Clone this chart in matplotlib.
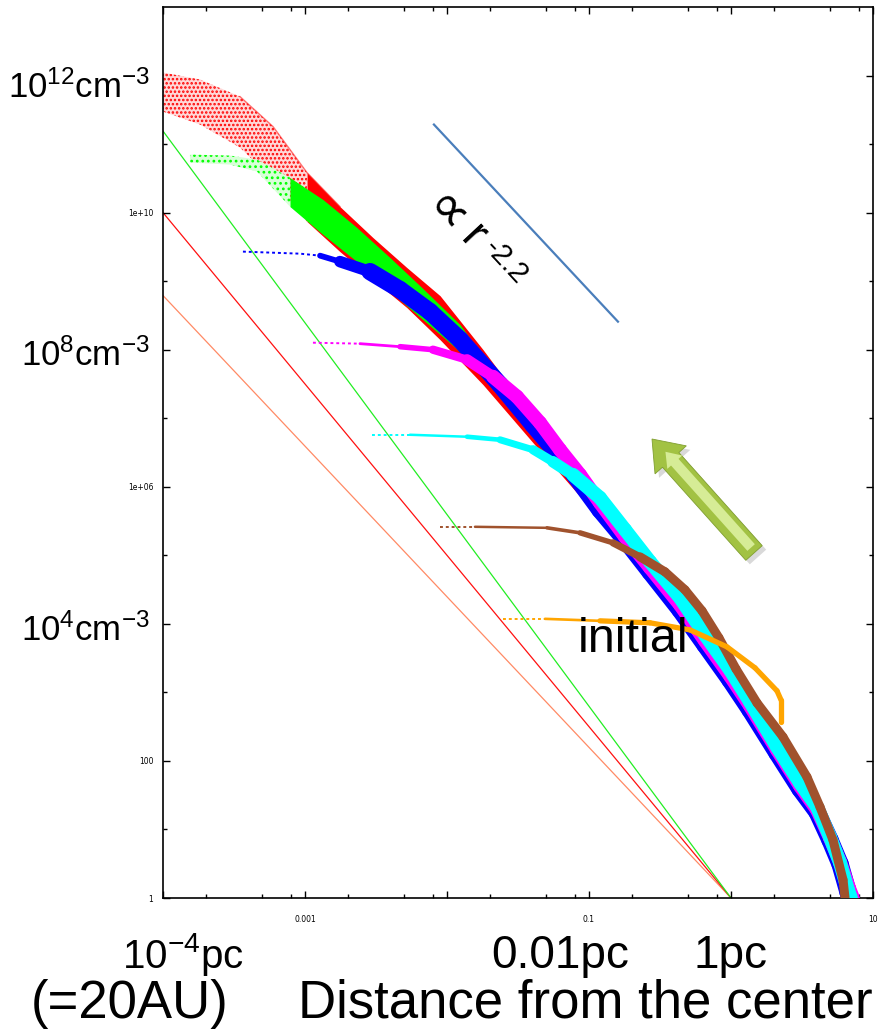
import numpy as np
import matplotlib
matplotlib.use("Agg")
import matplotlib.pyplot as plt
import matplotlib.ticker as mticker
from matplotlib.collections import LineCollection
from matplotlib.patches import FancyArrow
from matplotlib.transforms import IdentityTransform

plt.rcParams['font.family'] = ['Liberation Sans', 'DejaVu Sans']
plt.rcParams['mathtext.fontset'] = 'custom'
plt.rcParams['mathtext.rm'] = 'Liberation Sans'
plt.rcParams['mathtext.it'] = 'Liberation Sans:italic'
plt.rcParams['mathtext.bf'] = 'Liberation Sans:bold'
plt.rcParams['mathtext.sf'] = 'Liberation Sans'
plt.rcParams['hatch.linewidth'] = 1.2

# ---------------- data: log10(r / pc) and log10(n / cm^-3) ----------------
# straight power-law lines (end points)
line_lr = [-4.0, 0.0]
green_line_ln = [11.19, 0.0]
red_line_ln = [10.0, 0.0]
salmon_line_ln = [8.79, 0.0]

# latest snapshot (red cloud): upper / lower envelope
red_lr = [-4.000, -3.739, -3.458, -3.225, -2.986, -2.754, -2.521, -2.282, -2.049,
          -1.746, -1.394, -1.042, -0.782, -0.570]
red_hi = [12.044, 11.942, 11.693, 11.255, 10.584, 10.088, 9.635, 9.197, 8.788,
          8.000, 7.022, 6.073, 5.445, 4.905]
red_lo = [11.474, 11.285, 10.949, 10.482, 9.869, 9.431, 9.022, 8.613, 8.146,
          7.489, 6.642, 5.810, 5.139, 4.613]

# green cloud
green_lr = [-3.810, -3.528, -3.338, -3.106, -2.873, -2.634, -2.401, -2.169, -1.908,
            -1.627, -1.394, -1.042, -0.782, -0.570]
green_hi = [10.847, 10.832, 10.774, 10.511, 10.190, 9.781, 9.343, 8.891, 8.365,
            7.562, 6.978, 6.029, 5.401, 4.861]
green_lo = [10.730, 10.701, 10.599, 10.088, 9.679, 9.285, 8.847, 8.438, 7.971,
            7.343, 6.730, 5.898, 5.226, 4.686]

blue_lr = [-3.437, -3.035, -2.894, -2.754, -2.542, -2.331, -2.120, -1.908, -1.627,
           -1.394, -1.155, -0.923, -0.746, -0.570, -0.359, -0.183, -0.007, 0.134,
           0.324, 0.486, 0.606, 0.697, 0.768, 0.824, 0.838]
blue_ln = [9.431, 9.401, 9.372, 9.285, 9.139, 8.876, 8.555, 8.146, 7.489,
           6.905, 6.321, 5.664, 5.226, 4.759, 4.204, 3.693, 3.182, 2.745,
           2.117, 1.591, 1.255, 0.847, 0.496, 0.088, 0.0]

magenta_lr = [-2.944, -2.613, -2.331, -2.099, -1.859, -1.676, -1.507, -1.345, -1.204,
              -1.063, -0.923, -0.746, -0.570, -0.359, -0.183, -0.007, 0.134, 0.324,
              0.486, 0.606, 0.697, 0.768, 0.831, 0.859]
magenta_ln = [8.102, 8.088, 8.044, 8.000, 7.854, 7.606, 7.314, 6.934, 6.540,
              6.175, 5.766, 5.270, 4.818, 4.277, 3.752, 3.241, 2.803, 2.161,
              1.635, 1.285, 0.876, 0.526, 0.146, 0.0]

cyan_lr = [-2.528, -2.261, -1.859, -1.627, -1.394, -1.254, -1.113, -0.923, -0.746,
           -0.570, -0.359, -0.183, -0.007, 0.134, 0.324, 0.486, 0.606, 0.697,
           0.768, 0.824, 0.845]
cyan_ln = [6.759, 6.759, 6.730, 6.686, 6.540, 6.365, 6.175, 5.839, 5.372,
           4.905, 4.380, 3.839, 3.328, 2.861, 2.204, 1.679, 1.328, 0.890,
           0.511, 0.117, 0.0]

brown_lr = [-2.049, -1.803, -1.296, -1.063, -0.831, -0.641, -0.465, -0.324, -0.204,
            -0.085, 0.035, 0.183, 0.366, 0.535, 0.627, 0.718, 0.789, 0.803]
brown_ln = [5.416, 5.416, 5.401, 5.328, 5.182, 4.978, 4.759, 4.496, 4.190,
            3.796, 3.343, 2.847, 2.350, 1.766, 1.328, 0.847, 0.263, 0.0]

orange_lr = [-1.606, -1.310, -0.923, -0.570, -0.289, -0.028, 0.169, 0.324, 0.352, 0.352]
orange_ln = [4.073, 4.073, 4.044, 4.015, 3.912, 3.664, 3.358, 3.022, 2.891, 2.569]

# r^-2.2 guide
guide_lr = [-2.092, -0.796]
guide_ln = [11.285, 8.409]

x_major = [1e-4, 1e-3, 1e-2, 1e-1, 1, 10]
x_major_labels = ['', '0.001', '', '0.1', '', '10']
y_major = [1, 1e2, 1e4, 1e6, 1e8, 1e10, 1e12]
y_major_labels = ['1', '100', '', '1e+06', '', '1e+10', '']

# ---------------- figure ----------------
W, H = 879, 1036
fig = plt.figure(figsize=(W / 100, H / 100), dpi=100)
ax = fig.add_axes([163 / W, 138 / H, 710 / W, 891 / H])
ax.set_xscale('log')
ax.set_yscale('log')
ax.set_xlim(1e-4, 10)
ax.set_ylim(1, 1e13)

p10 = lambda a: 10.0 ** np.asarray(a)

# thin straight lines
ax.plot(p10(line_lr), p10(salmon_line_ln), color='#ff8a65', lw=0.9, zorder=1)
ax.plot(p10(line_lr), p10(red_line_ln), color='#ff1010', lw=0.9, zorder=1)
ax.plot(p10(line_lr), p10(green_line_ln), color='#22ee22', lw=0.9, zorder=1)


def cloud(lr, hi, lo, color, light, n_sparse, hatch, z):
    r, h, l = p10(lr), p10(hi), p10(lo)
    ax.fill_between(r[:n_sparse + 1], l[:n_sparse + 1], h[:n_sparse + 1],
                    facecolor=light, edgecolor=color, hatch=hatch, lw=0, zorder=z)
    ax.fill_between(r[n_sparse:], l[n_sparse:], h[n_sparse:],
                    color=color, lw=0, zorder=z)


def profile(lr, ln, color, n_head, w_max, n_ramp, z):
    r, n = p10(lr), p10(ln)
    ax.plot(r[:n_head + 1], n[:n_head + 1], color=color, lw=1.4,
            ls=(0, (1.5, 1.5)), zorder=z)
    pts = np.column_stack([r[n_head:], n[n_head:]])
    segs = np.stack([pts[:-1], pts[1:]], axis=1)
    widths = [max(1.8, w_max * min(1.0, (i + 1) / n_ramp)) for i in range(len(segs))]
    lc = LineCollection(segs, linewidths=widths, colors=color, capstyle='round',
                        joinstyle='round', zorder=z)
    ax.add_collection(lc)


cloud(red_lr, red_hi, red_lo, '#ff0000', '#ffd8d8', 4, '....', 2)
ax.plot(p10(red_lr[2:6]), p10(red_hi[2:6]), color='#ff2020', lw=1.0, alpha=0.6, zorder=2)
cloud(green_lr, green_hi, green_lo, '#00ff00', '#d8ffd8', 3, '...', 3)
profile(blue_lr, blue_ln, '#0000ff', 2, 12.5, 3, 4)
profile(magenta_lr, magenta_ln, '#ff00ff', 1, 10.0, 5, 5)
profile(cyan_lr, cyan_ln, '#00ffff', 1, 10.0, 6, 6)
profile(brown_lr, brown_ln, '#a0522d', 1, 6.5, 5, 7)
profile(orange_lr, orange_ln, '#ffa500', 1, 3.8, 2, 8)

ax.plot(p10(guide_lr), p10(guide_ln), color='#4a7ebb', lw=1.6, zorder=9)

# ticks
ax.set_xticks(x_major)
ax.set_xticklabels(x_major_labels)
ax.set_xticks([m * 10.0 ** e for e in range(-4, 1) for m in (2, 5, 8)], minor=True)
ax.xaxis.set_minor_formatter(mticker.NullFormatter())
ax.set_yticks(y_major)
ax.set_yticklabels(y_major_labels)
ax.set_yticks([10.0 ** e for e in range(1, 13, 2)], minor=True)
ax.yaxis.set_minor_formatter(mticker.NullFormatter())
ax.tick_params(which='both', direction='in', top=True, right=True, width=1.0,
               labelsize=5.5, labelfontfamily='DejaVu Sans')
ax.tick_params(which='major', length=5)
ax.tick_params(which='minor', length=3)
ax.tick_params(axis='x', pad=12)
ax.tick_params(axis='y', pad=7)
for s in ax.spines.values():
    s.set_linewidth(1.2)

fx = lambda x: x / W
fy = lambda y: 1 - y / H

# big overlay labels
for txt, yb in [(r'$\mathregular{10^{12}cm^{-3}}$', 98),
                (r'$\mathregular{10^{8}cm^{-3}}$', 366),
                (r'$\mathregular{10^{4}cm^{-3}}$', 641)]:
    fig.text(fx(150), fy(yb), txt, ha='right', va='baseline', fontsize=25)

fig.text(fx(183), fy(968), r'$\mathregular{10^{-4}pc}$', ha='center', va='baseline', fontsize=29)
fig.text(fx(560), fy(968), '0.01pc', ha='center', va='baseline', fontsize=33)
fig.text(fx(731), fy(968), '1pc', ha='center', va='baseline', fontsize=33)
fig.text(fx(130), fy(1018), '(=20AU)', ha='center', va='baseline', fontsize=38)
fig.text(fx(873), fy(1018), 'Distance from the center', ha='right', va='baseline', fontsize=38)

fig.text(fx(578), fy(652), 'initial', ha='left', va='baseline', fontsize=35, zorder=10)

fig.text(fx(445), fy(214), '\u221d', ha='center', va='center', fontsize=40,
         rotation=-47, rotation_mode='anchor', zorder=10)
fig.text(fx(473), fy(237), 'r', ha='center', va='center', fontsize=33,
         rotation=-47, rotation_mode='anchor', zorder=10)
fig.text(fx(506), fy(262), '-2.2', ha='center', va='center', fontsize=21,
         rotation=-47, rotation_mode='anchor', zorder=10)

# green 3D arrow (decoration)
tx, ty = 754, H - 553
dx, dy = -102, 114
L = np.hypot(dx, dy)
u = np.array([dx, dy]) / L
nrm = np.array([u[1], -u[0]])
idt = IdentityTransform()
fig.add_artist(FancyArrow(tx + 4, ty - 4, dx, dy, width=22, head_width=42, head_length=28,
                          length_includes_head=True, transform=idt, color='black',
                          alpha=0.15, lw=0, zorder=20))
fig.add_artist(FancyArrow(tx, ty, dx, dy, width=22, head_width=42, head_length=28,
                          length_includes_head=True, transform=idt, fc='#a2c243',
                          ec='#809f30', lw=0.6, zorder=21))
hs = np.array([tx, ty]) + 1.5 * nrm + 6 * u
fig.add_artist(FancyArrow(hs[0], hs[1], dx * 0.84, dy * 0.84, width=10, head_width=20,
                          head_length=14, length_includes_head=True, transform=idt,
                          fc='#d6ec96', lw=0, zorder=22))

fig.savefig('out.png', dpi=100)
